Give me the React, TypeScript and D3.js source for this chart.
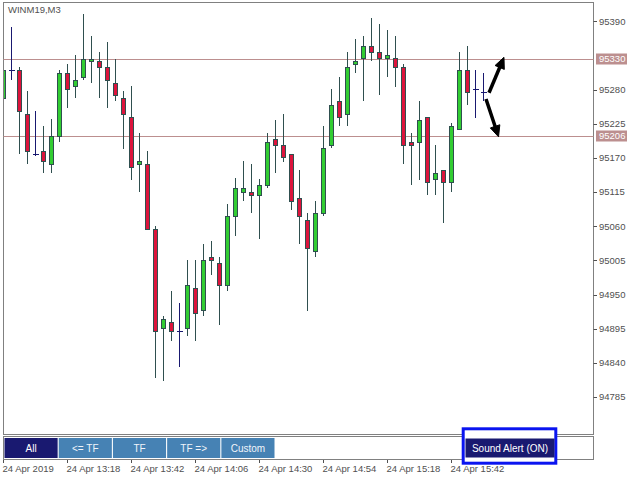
import React from "react";
import * as d3 from "d3";

const symbolLabel = "WINM19,M3";

const opens = [95267,95312,95312,95241,95176,95181,95160,95205,95307,95286,
  95300,95326,95326,95317,95291,95267,95236,95160,95160,95056,
  94896,94906,94891,94896,94961,94925,95010,95001,94965,95077,
  95115,95115,95110,95126,95201,95191,95176,95105,95070,95020,
  95081,95191,95262,95241,95321,95331,95350,95341,95331,95331,
  95317,95196,95196,95236,95136,95151,95131,95217,95312,95281,95276];
const highs = [95318,95381,95317,95277,95246,95222,95232,95312,95322,95336,
  95402,95367,95341,95357,95330,95277,95286,95210,95181,95060,
  94915,94956,94936,95006,95006,95032,95037,95010,95096,95137,
  95165,95161,95136,95210,95231,95241,95176,95151,95081,95101,
  95221,95281,95300,95341,95362,95366,95395,95386,95376,95366,
  95321,95210,95262,95236,95191,95151,95226,95341,95351,95312,95307];
const lows = [95262,95295,95176,95160,95173,95145,95145,95195,95250,95266,
  95295,95290,95266,95250,95261,95185,95135,95115,95056,94815,
  94810,94875,94834,94884,94875,94915,94981,94901,94956,95045,
  95100,95081,95040,95122,95145,95164,95086,95031,94924,95010,
  95077,95186,95221,95221,95306,95261,95326,95271,95300,95285,
  95160,95126,95135,95110,95110,95065,95115,95217,95255,95235,95262];
const closes = [95312,95312,95245,95181,95176,95165,95206,95307,95281,95296,
  95330,95330,95317,95296,95271,95241,95155,95165,95056,94891,
  94911,94891,94891,94965,94920,95006,95006,94965,95077,95122,
  95122,95110,95126,95196,95191,95172,95101,95077,95025,95081,
  95186,95255,95236,95317,95326,95350,95341,95331,95336,95317,
  95191,95191,95231,95131,95146,95131,95221,95312,95276,95281,95276];

// 95335 tick is hidden behind the 95330 level label in the reference
const priceTicks = [95390,95280,95225,95170,95115,95060,95005,94950,94895,94840,94785];
const levelPrices = [95330, 95206];
const timeTickIdx = [0, 8, 16, 24, 32, 40, 48, 56];
const timeTickLabels = ["24 Apr 2019","24 Apr 13:18","24 Apr 13:42","24 Apr 14:06","24 Apr 14:30","24 Apr 14:54","24 Apr 15:18","24 Apr 15:42"];
const buttonLabels = ["All", "<= TF", "TF", "TF =>", "Custom"];
const alertLabel = "Sound Alert (ON)";
// arrows: [barIndex, price]
const arrowStarts = [[60.69, 95275], [60.31, 95265]];
const arrowEnds = [[62.56, 95332], [61.88, 95204]];

const BULL = "#32CD32";
const BEAR = "#DC143C";
const OUTLINE = "#2F4F4F";
const DOJI = "#191970";
const LEVEL = "#BC8F8F";
const FRAME = "#808080";
const TXT = "#505050";
const FONT = "'Liberation Sans', Arial, sans-serif";

const L = 3.5, R = 593.5, T = 2.5, B = 434.5;

export default function App() {
  const x = d3.scaleLinear().domain([0, 60]).range([3.5, 483.5]);
  const y = d3.scaleLinear().domain([94725.4, 95421.1]).range([434, 2]);
  const py = (p: number) => Math.round(y(p)) + 0.5;
  const band = d3.scaleBand<string>().domain(buttonLabels).range([4.5, 274.5]).paddingInner(0.02);

  const arrowEls = arrowStarts.map((s, i) => {
    const e = arrowEnds[i];
    const x1 = x(s[0]), y1 = y(s[1]), x2 = x(e[0]), y2 = y(e[1]);
    const ang = Math.atan2(y2 - y1, x2 - x1);
    const len = 11, hw = 5;
    const bx = x2 - len * Math.cos(ang), by = y2 - len * Math.sin(ang);
    const nx = -Math.sin(ang), ny = Math.cos(ang);
    const pts = `${x2},${y2} ${bx + nx * hw},${by + ny * hw} ${bx - nx * hw},${by - ny * hw}`;
    return (
      <g key={"a" + i}>
        <line x1={x1} y1={y1} x2={bx + Math.cos(ang)} y2={by + Math.sin(ang)} stroke="#000" strokeWidth={3.5} />
        <polygon points={pts} fill="#000" stroke="#000" strokeWidth={1} />
      </g>
    );
  });

  return (
    <svg width={640} height={480} style={{ position: "absolute", left: 0, top: 0, background: "#fff" }}
      fontFamily={FONT}>
      <defs>
        <clipPath id="plot">
          <rect x={4} y={3} width={589} height={431} />
        </clipPath>
      </defs>
      <rect x={0} y={0} width={640} height={480} fill="#fff" />
      <rect x={L} y={T} width={R - L} height={B - T} fill="none" stroke={FRAME} />
      <rect x={L} y={436.5} width={R - L} height={23} fill="none" stroke={FRAME} />

      <text x={8} y={13} fontSize={9.5} fill={TXT}>{symbolLabel}</text>

      {levelPrices.map((p) => (
        <line key={"lv" + p} x1={L} x2={R} y1={py(p)} y2={py(p)} stroke={LEVEL} strokeWidth={1} />
      ))}

      <g clipPath="url(#plot)">
        {opens.map((o, i) => {
          const c = closes[i], h = highs[i], l = lows[i];
          const cx = x(i);
          if (o === c) {
            const yy = py(o);
            return (
              <g key={i}>
                <line x1={cx} x2={cx} y1={Math.round(y(h))} y2={Math.round(y(l))} stroke={DOJI} />
                <line x1={cx - 2.5} x2={cx + 3.5} y1={yy} y2={yy} stroke={DOJI} />
              </g>
            );
          }
          const top = Math.round(y(Math.max(o, c)));
          const bot = Math.round(y(Math.min(o, c)));
          return (
            <g key={i}>
              <line x1={cx} x2={cx} y1={Math.round(y(h))} y2={Math.round(y(l))} stroke={OUTLINE} />
              <rect x={cx - 2} y={top + 0.5} width={4} height={Math.max(bot - top, 1)}
                fill={c > o ? BULL : BEAR} stroke={OUTLINE} strokeWidth={1} />
            </g>
          );
        })}
      </g>

      {arrowEls}

      {priceTicks.map((p) => (
        <g key={"pt" + p}>
          <line x1={R} x2={597} y1={py(p)} y2={py(p)} stroke={TXT} />
          <text x={599} y={y(p)} dy="0.35em" fontSize={9.5} fill={TXT}>{p}</text>
        </g>
      ))}
      {levelPrices.map((p) => (
        <g key={"pl" + p}>
          <rect x={596} y={Math.round(y(p)) - 5.5} width={31} height={11} fill={LEVEL} />
          <text x={599} y={y(p)} dy="0.35em" fontSize={9.5} fill="#fff">{p}</text>
        </g>
      ))}

      {buttonLabels.map((b, i) => (
        <g key={"b" + b}>
          <rect x={band(b)} y={438} width={band.bandwidth()} height={20} fill={i === 0 ? DOJI : "#4682B4"} />
          <text x={(band(b) as number) + band.bandwidth() / 2} y={452} textAnchor="middle" fontSize={10}
            fill={i === 0 ? "#fff" : "#f0f4fa"}>{b}</text>
        </g>
      ))}
      <rect x={463.2} y={428.8} width={92.6} height={34.4} fill="#fff" stroke="#0A14F0" strokeWidth={3} />
      <rect x={465.5} y={438.5} width={89} height={19} fill={DOJI} />
      <text x={510} y={452} textAnchor="middle" fontSize={10} fill="#fff">{alertLabel}</text>

      {timeTickIdx.map((k, j) => (
        <g key={"tt" + k}>
          <line x1={x(k)} x2={x(k)} y1={460} y2={463} stroke={TXT} />
          <text x={x(k) - 1} y={472} fontSize={9.5} fill={TXT}>{timeTickLabels[j]}</text>
        </g>
      ))}
    </svg>
  );
}
